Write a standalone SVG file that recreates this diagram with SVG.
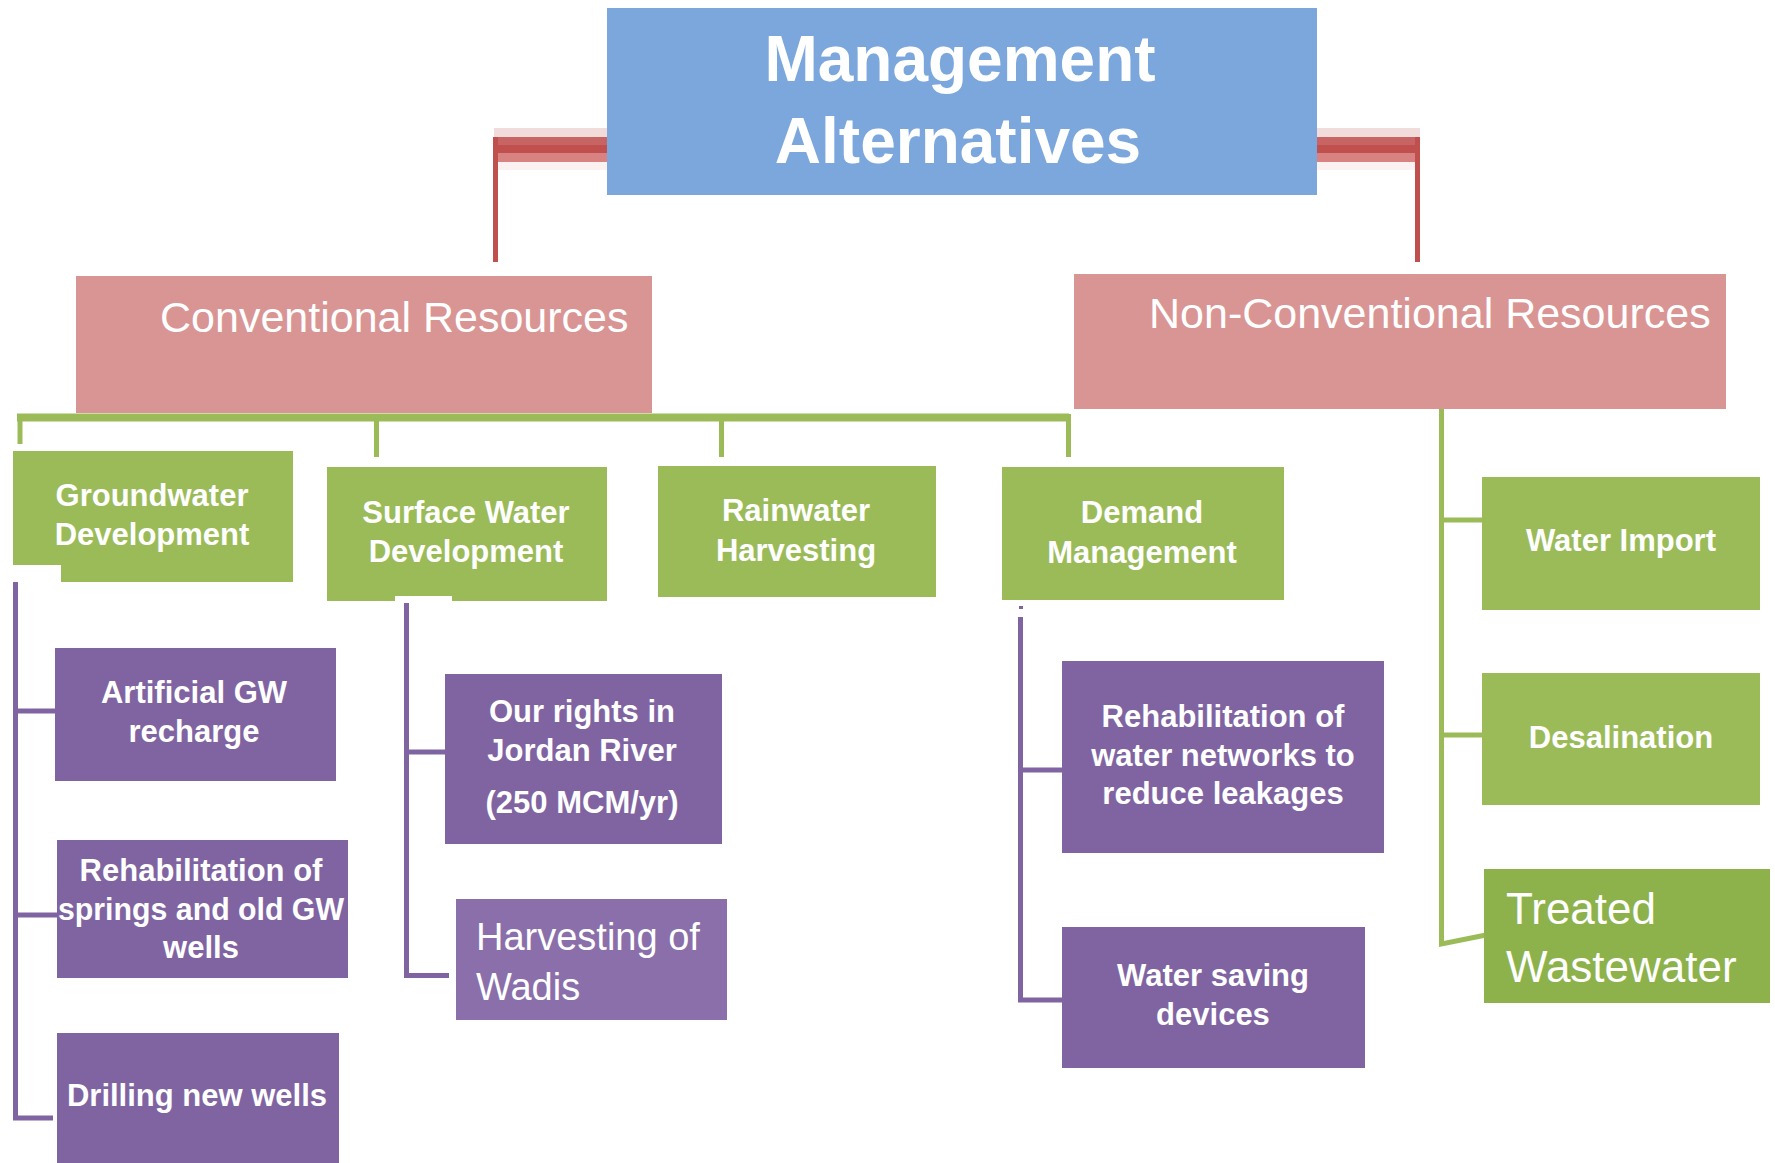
<svg xmlns="http://www.w3.org/2000/svg" width="1775" height="1163" viewBox="0 0 1775 1163">
<style>
.t{font-family:"Liberation Sans",Arial,sans-serif;fill:#fff}
.b{font-weight:bold;font-size:31px;text-anchor:middle}
.r{font-size:43px}
.blue{fill:#7ba7dd}
.pink{fill:#d99594}
.green{fill:#9bbb59}
.purple{fill:#8064a2}
.gl{stroke:#9bbb59;stroke-width:5;fill:none}
.pl{stroke:#8064a2;stroke-width:5;fill:none}
</style>
<rect width="1775" height="1163" fill="#fff"/>
<g id="connectors">
  <g id="red-left">
    <rect x="494" y="128" width="113" height="9" fill="#f2dcdb"/>
    <rect x="494" y="137" width="113" height="8" fill="#c86464"/>
    <rect x="494" y="145" width="113" height="8" fill="#c0504d"/>
    <rect x="494" y="153" width="113" height="9" fill="#d88281"/>
    <rect x="494" y="162" width="113" height="8" fill="#fbf1f1"/>
    <rect x="493" y="137" width="5" height="125" fill="#c0504d"/>
  </g>
  <g id="red-right">
    <rect x="1317" y="128" width="103" height="9" fill="#f2dcdb"/>
    <rect x="1317" y="137" width="103" height="8" fill="#c86464"/>
    <rect x="1317" y="145" width="103" height="8" fill="#c0504d"/>
    <rect x="1317" y="153" width="103" height="9" fill="#d88281"/>
    <rect x="1317" y="162" width="103" height="8" fill="#fbf1f1"/>
    <rect x="1415" y="137" width="5" height="125" fill="#c0504d"/>
  </g>
  <path class="gl" d="M17,417.5 H1069" style="stroke-width:8"/>
  <path class="gl" d="M20,414 V444 M376.5,414 V457 M721.5,414 V457 M1068.5,414 V457"/>
  <path class="gl" d="M1441.5,409 V944 L1486,935 M1441.5,520 H1483 M1441.5,735 H1483"/>
  <path class="pl" d="M15.5,582 V1118 H53 M15.5,711 H55 M15.5,915 H57"/>
  <path class="pl" d="M406.5,603 V975.5 H449 M406.5,752 H445"/>
  <path class="pl" d="M1020.5,617 V1000 H1062 M1020.5,770 H1062"/>
  <rect x="1019" y="606" width="4" height="3" fill="#8064a2"/>
</g>
<g id="management">
  <rect class="blue" x="607" y="8" width="710" height="187"/>
  <text class="t" x="960" y="81" font-size="64" font-weight="bold" text-anchor="middle">Management</text>
  <text class="t" x="958" y="163" font-size="64" font-weight="bold" text-anchor="middle">Alternatives</text>
</g>
<g id="conventional">
  <rect class="pink" x="76" y="276" width="576" height="137"/>
  <text class="t r" x="160" y="332">Conventional Resources</text>
</g>
<g id="nonconventional">
  <rect class="pink" x="1074" y="274" width="652" height="135"/>
  <text class="t r" x="1149" y="328">Non-Conventional Resources</text>
</g>
<g id="groundwater">
  <rect class="green" x="13" y="451" width="280" height="131"/>
  <rect x="13" y="565" width="48" height="17" fill="#fff"/>
  <text class="t b" x="152" y="506">Groundwater</text>
  <text class="t b" x="152" y="545">Development</text>
</g>
<g id="surfacewater">
  <rect class="green" x="327" y="467" width="280" height="134"/>
  <rect x="395" y="596" width="57" height="6" fill="#fff"/>
  <text class="t b" x="466" y="523">Surface Water</text>
  <text class="t b" x="466" y="562">Development</text>
</g>
<g id="rainwater">
  <rect class="green" x="658" y="466" width="278" height="131"/>
  <text class="t b" x="796" y="521">Rainwater</text>
  <text class="t b" x="796" y="561">Harvesting</text>
</g>
<g id="demand">
  <rect class="green" x="1002" y="467" width="282" height="133"/>
  <text class="t b" x="1142" y="523">Demand</text>
  <text class="t b" x="1142" y="563">Management</text>
</g>
<g id="artificial">
  <rect class="purple" x="55" y="648" width="281" height="133"/>
  <text class="t b" x="194" y="703">Artificial GW</text>
  <text class="t b" x="194" y="742">recharge</text>
</g>
<g id="rehab-springs">
  <rect class="purple" x="57" y="840" width="291" height="138"/>
  <text class="t b" x="201" y="881">Rehabilitation of</text>
  <text class="t b" x="201" y="920" textLength="286" lengthAdjust="spacingAndGlyphs">springs and old GW</text>
  <text class="t b" x="201" y="958">wells</text>
</g>
<g id="drilling">
  <rect class="purple" x="57" y="1033" width="282" height="130"/>
  <text class="t b" x="197" y="1106">Drilling new wells</text>
</g>
<g id="jordan">
  <rect class="purple" x="445" y="674" width="277" height="170"/>
  <text class="t b" x="582" y="722">Our rights in</text>
  <text class="t b" x="582" y="761">Jordan River</text>
  <text class="t b" x="582" y="813">(250 MCM/yr)</text>
</g>
<g id="wadis">
  <rect x="456" y="899" width="271" height="121" fill="#8a6faa"/>
  <text class="t" x="476" y="950" font-size="38">Harvesting of</text>
  <text class="t" x="476" y="1000" font-size="38">Wadis</text>
</g>
<g id="rehab-networks">
  <rect class="purple" x="1062" y="661" width="322" height="192"/>
  <text class="t b" x="1223" y="727">Rehabilitation of</text>
  <text class="t b" x="1223" y="766">water networks to</text>
  <text class="t b" x="1223" y="804">reduce leakages</text>
</g>
<g id="water-saving">
  <rect class="purple" x="1062" y="927" width="303" height="141"/>
  <text class="t b" x="1213" y="986">Water saving</text>
  <text class="t b" x="1213" y="1025">devices</text>
</g>
<g id="water-import">
  <rect class="green" x="1482" y="477" width="278" height="133"/>
  <text class="t b" x="1621" y="551">Water Import</text>
</g>
<g id="desalination">
  <rect class="green" x="1482" y="673" width="278" height="132"/>
  <text class="t b" x="1621" y="748">Desalination</text>
</g>
<g id="treated">
  <rect x="1484" y="869" width="286" height="134" fill="#8db24b"/>
  <text class="t" x="1506" y="924" font-size="44">Treated</text>
  <text class="t" x="1506" y="982" font-size="44">Wastewater</text>
</g>
</svg>
